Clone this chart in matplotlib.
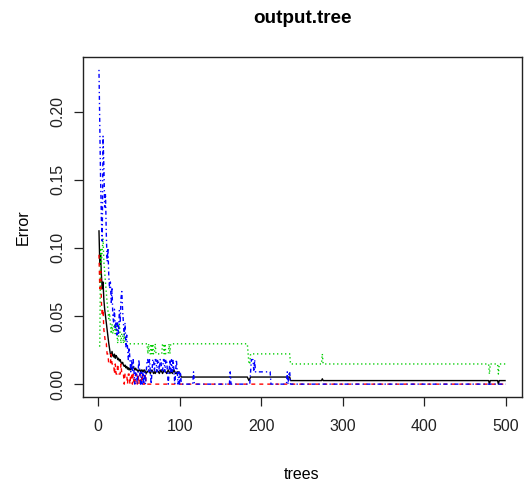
import numpy as np
import matplotlib
matplotlib.use("Agg")
import matplotlib.pyplot as plt

plt.rcParams['font.family'] = ['Liberation Sans', 'DejaVu Sans']
plt.rcParams['lines.scale_dashes'] = False

title = "output.tree"
xlabel = "trees"
ylabel = "Error"
x_ticks = [0, 100, 200, 300, 400, 500]
y_ticks = [0.00, 0.05, 0.10, 0.15, 0.20]
y_ticklabels = ["0.00", "0.05", "0.10", "0.15", "0.20"]

# ---- error rates per tree, trees 1..104 ----
oob_head = [
    0.113, 0.088, 0.095, 0.080, 0.070, 0.075, 0.062, 0.055, 0.050, 0.045,
    0.040, 0.035, 0.030, 0.026, 0.022, 0.020, 0.024, 0.021, 0.020, 0.022,
    0.019, 0.021, 0.020, 0.018, 0.019, 0.017, 0.018, 0.016, 0.015, 0.016,
    0.014, 0.013, 0.014, 0.012, 0.013, 0.011, 0.012, 0.0104, 0.0117, 0.0104,
    0.0117, 0.0117, 0.0130, 0.0117, 0.0104, 0.0117, 0.0104, 0.0104, 0.0091, 0.0104,
    0.0104, 0.0091, 0.0104, 0.0091, 0.0104, 0.0091, 0.0104, 0.0091, 0.0078, 0.0091,
    0.0091, 0.0104, 0.0091, 0.0078, 0.0091, 0.0104, 0.0091, 0.0078, 0.0091, 0.0078,
    0.0091, 0.0104, 0.0091, 0.0091, 0.0078, 0.0091, 0.0104, 0.0091, 0.0078, 0.0091,
    0.0104, 0.0091, 0.0091, 0.0078, 0.0091, 0.0104, 0.0091, 0.0078, 0.0091, 0.0091,
    0.0078, 0.0091, 0.0104, 0.0091, 0.0078, 0.0078, 0.0091, 0.0078, 0.0091, 0.0078,
    0.0065, 0.0052, 0.0052, 0.0052,
]
c1_head = [
    0.095, 0.070, 0.085, 0.060, 0.050, 0.055, 0.040, 0.035, 0.030, 0.030,
    0.022, 0.022, 0.0148, 0.0148, 0.0148, 0.022, 0.0148, 0.0148, 0.0148, 0.0074,
    0.0148, 0.0074, 0.0074, 0.0148, 0.0074, 0.0074, 0.0074, 0.0148, 0.0074, 0.0074,
    0.0074, 0.0, 0.0074, 0.0074, 0.0074, 0.0, 0.0074, 0.0074, 0.0, 0.0074,
    0.0074, 0.0, 0.0074, 0.0, 0.0, 0.0074, 0.0074, 0.0, 0.0074, 0.0,
    0.0074, 0.0074, 0.0, 0.0074, 0.0, 0.0, 0.0, 0.0074, 0.0, 0.0,
] + [0.0] * 44
c2_head = [
    0.028, 0.028, 0.100, 0.090, 0.098, 0.107, 0.090, 0.082, 0.073, 0.067,
    0.060, 0.054, 0.048, 0.052, 0.044, 0.037, 0.044, 0.037, 0.041, 0.044,
    0.037, 0.044, 0.037, 0.030, 0.037, 0.044, 0.037, 0.030, 0.037, 0.037,
    0.030, 0.037, 0.0296, 0.0296, 0.0296, 0.0296, 0.0296, 0.0296, 0.0296, 0.0296,
    0.0296, 0.0296, 0.0296, 0.0296, 0.0296, 0.0296, 0.0296, 0.0296, 0.0296, 0.0296,
    0.0296, 0.0296, 0.0296, 0.0296, 0.0296, 0.0296, 0.0296, 0.0296, 0.0296, 0.0296,
    0.0222, 0.0296, 0.0222, 0.0222, 0.0296, 0.0222, 0.0296, 0.0222, 0.0222, 0.0296,
    0.0222, 0.0222, 0.0222, 0.0222, 0.0222, 0.0222, 0.0222, 0.0222, 0.0296, 0.0296,
    0.0222, 0.0296, 0.0222, 0.0222, 0.0222, 0.0222, 0.0296, 0.0222, 0.0296, 0.0296,
] + [0.0296] * 14
c3_head = [
    0.2307, 0.190, 0.150, 0.120, 0.105, 0.182, 0.160, 0.130, 0.140, 0.110,
    0.090, 0.100, 0.080, 0.070, 0.075, 0.060, 0.070, 0.050, 0.045, 0.055,
    0.040, 0.045, 0.036, 0.045, 0.036, 0.054, 0.045, 0.063, 0.068, 0.054,
    0.045, 0.036, 0.045, 0.027, 0.036, 0.027, 0.018, 0.027, 0.018, 0.009,
    0.018, 0.009, 0.018, 0.009, 0.0, 0.009, 0.009, 0.0, 0.009, 0.018,
    0.009, 0.0, 0.009, 0.0, 0.009, 0.0, 0.009, 0.0, 0.009, 0.018,
    0.018, 0.009, 0.018, 0.009, 0.0, 0.009, 0.018, 0.018, 0.009, 0.018,
    0.018, 0.009, 0.018, 0.018, 0.009, 0.018, 0.018, 0.009, 0.009, 0.018,
    0.018, 0.009, 0.018, 0.018, 0.009, 0.0, 0.009, 0.018, 0.009, 0.018,
    0.009, 0.018, 0.009, 0.0, 0.009, 0.018, 0.009, 0.0, 0.009, 0.0,
    0.009, 0.0, 0.0, 0.0,
]

# ---- trees 105..500 as runs of constant error (value, number of trees) ----
oob_runs = [(0.0052, 79), (0.0039, 1), (0.0026, 1), (0.0039, 1), (0.0052, 49),
            (0.0026, 39), (0.0039, 1), (0.0026, 204), (0.0, 1), (0.0026, 10),
            (0.0, 1), (0.0026, 9)]
c1_runs = [(0.0, 396)]
c2_runs = [(0.0296, 79), (0.0222, 1), (0.0148, 2), (0.0222, 49), (0.0148, 39),
           (0.0222, 1), (0.0148, 204), (0.0074, 1), (0.0148, 10), (0.0074, 1),
           (0.0148, 9)]
c3_runs = [(0.0, 12), (0.009, 1), (0.0, 44), (0.009, 1), (0.0, 24), (0.009, 1),
           (0.018, 3), (0.009, 1), (0.018, 1), (0.009, 19), (0.0, 20), (0.009, 1),
           (0.0, 1), (0.009, 2), (0.0, 265)]


def build(head, runs):
    tail = np.concatenate([np.full(n, v) for v, n in runs])
    return np.concatenate([np.asarray(head, float), tail])


series = [build(oob_head, oob_runs), build(c1_head, c1_runs),
          build(c2_head, c2_runs), build(c3_head, c3_runs)]
trees = np.arange(1, len(series[0]) + 1)

px = 0.72  # one pixel in points at dpi 100
colors = ["black", "#FF0000", "#00CD00", "#0000FF"]
styles = ["-", (0, (4 * px, 4 * px)), (0, (1.3 * px, 2.7 * px)),
          (0, (1.3 * px, 2.7 * px, 4 * px, 3 * px))]

fig = plt.figure(figsize=(5.24, 4.84), dpi=100)
ax = fig.add_axes([82.7 / 524, 1 - 396.7 / 484, (522 - 82.7) / 524, (396.7 - 57.3) / 484])

for y, c, ls in zip(series, colors, styles):
    ax.plot(trees, y, color=c, linestyle=ls, linewidth=1.0, dash_capstyle='butt',
            solid_capstyle='butt')

ax.set_xlim(1 - 0.04 * 499, 500 + 0.04 * 499)
ymax = 0.2307
ax.set_ylim(-0.04 * ymax, 1.04 * ymax)
ax.set_xticks(x_ticks)
ax.set_xticklabels([str(t) for t in x_ticks])
ax.set_yticks(y_ticks)
ax.set_yticklabels(y_ticklabels, rotation=90, va='center')
ax.tick_params(axis='both', direction='out', length=6.7, width=0.9, labelsize=11.5,
               colors='#222222')
ax.tick_params(axis='x', pad=9.5)
ax.tick_params(axis='y', pad=5.5)
for s in ax.spines.values():
    s.set_linewidth(1.0)
    s.set_color('#222222')

fig.text(302 / 524, 1 - 22.7 / 484, title, ha='center', va='baseline',
         fontsize=13.6, fontweight='bold')
fig.text(302 / 524, 1 - 479 / 484, xlabel, ha='center', va='baseline', fontsize=11.5)
fig.text(23 / 524, 1 - 227 / 484, ylabel, ha='center', va='center', rotation=90,
         fontsize=11.5)

fig.savefig("out.png", dpi=100)
